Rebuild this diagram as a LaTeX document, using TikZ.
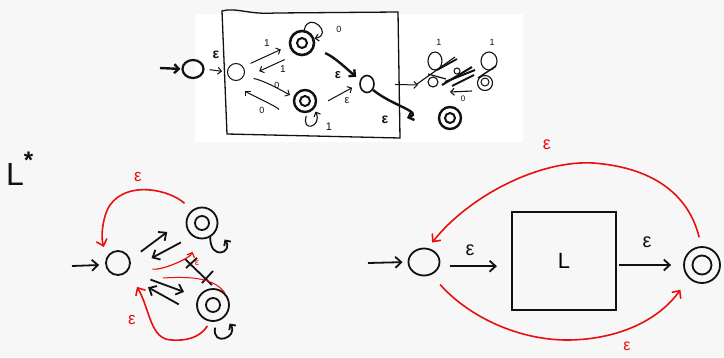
\documentclass[tikz,border=0pt]{standalone}
\usepackage{fontspec}
\setmainfont{Liberation Sans}
\usetikzlibrary{arrows.meta,shapes.geometric}
\definecolor{bg}{HTML}{F7F7F7}
\definecolor{pen}{HTML}{111111}
\definecolor{rd}{HTML}{E8100F}
\tikzset{
  thinln/.style={line width=1pt, draw=pen},
  thickln/.style={line width=2.4pt, draw=pen},
  medln/.style={line width=1.8pt, draw=pen},
  redln/.style={line width=1.6pt, draw=rd},
  hdS/.style={-{Straight Barb[length=3.5pt,width=7pt]}},
  hdT/.style={-{Straight Barb[length=4.5pt,width=9pt]}},
  hdM/.style={-{Straight Barb[length=6pt,width=11pt]}},
  st/.style={circle, draw=pen, inner sep=0pt},
  ell/.style={ellipse, draw=pen, inner sep=0pt},
  lab/.style={inner sep=0pt, text=pen},
  rlab/.style={inner sep=0pt, text=rd},
}
\begin{document}
\begin{tikzpicture}[x=1pt,y=-1pt]
\useasboundingbox (0,0) rectangle (724,357);
\fill[bg] (0,0) rectangle (724,357);
\fill[white] (195,14) rectangle (523,142);

% ---------------- top panel ----------------
\draw[pen, line width=1.3pt] (222,11) .. controls (235,7) and (250,15) .. (275,13) -- (398,12) -- (400,138) -- (227,134) -- cycle;

\node[ell, line width=2.2pt, minimum width=21pt, minimum height=18pt] (t0) at (193,69) {};
\node[st, line width=1pt, minimum size=17pt] (q0) at (236,72) {};
\node[st, line width=2.6pt, minimum size=24pt] (u) at (302,43) {};
\node[st, line width=2pt, minimum size=10pt] (ui) at (302,43) {};
\node[st, line width=2.4pt, minimum size=22pt] (l) at (305,101) {};
\node[st, line width=2pt, minimum size=10pt] (li) at (305,101) {};
\node[ell, line width=1.6pt, minimum width=14pt, minimum height=17pt] (m) at (367,84) {};

\coordinate (t0in) at (160,68);
\draw[thickln, hdT, shorten >=1pt] (t0in) -- (t0.west);
\draw[thinln, hdS, shorten <=5pt, shorten >=5pt] (t0.east) -- (q0.west);
\draw[thinln, hdS, shorten <=8pt, shorten >=9pt] (q0.36) -- (u.192);
\draw[thinln, hdS, shorten <=12pt, shorten >=20pt] (u.241) -- (q0.-56);
\draw[thinln, hdS, shorten <=10pt, shorten >=4pt] (q0.-30) .. controls +(20,4) and +(-15,-8) .. (l.160);
\draw[thinln, hdS, shorten <=16pt, shorten >=14pt] (l.210) .. controls +(-12,2) and +(12,12) .. (q0.-95);
\draw[thickln, hdT, shorten <=12pt, shorten >=5pt] (u.-25) .. controls +(20,8) and +(-12,-10) .. (m.150);
\draw[thinln, hdS, shorten <=15pt, shorten >=8pt] (l.-35) -- (m.179);
\coordinate (mx) at (407,118);
\draw[thickln, hdT] (m.-45) .. controls +(20,16) and +(16,-6) .. (mx);
\coordinate (mo) at (418,85);
\draw[thinln, hdS, shorten <=20pt] (m.east) -- (mo);
\draw[thinln, line width=1.1pt, hdS] (u.80) .. controls +(4,-20) and +(20,-4) .. (u.20);
\draw[thinln, line width=1.1pt, hdS, shorten <=3pt, shorten >=3pt] (l.-80) .. controls +(-6,20) and +(8,18) .. (l.-40);

\node[lab, font=\fontsize{14}{14}\selectfont\bfseries] at (216,55) {ε};
\node[lab, font=\fontsize{10}{10}\selectfont] at (267,43) {1};
\node[lab, font=\fontsize{10}{10}\selectfont] at (283,69) {1};
\node[lab, font=\fontsize{9}{9}\selectfont] at (277,85) {0};
\node[lab, font=\fontsize{9}{9}\selectfont] at (262,110) {0};
\node[lab, font=\fontsize{9}{9}\selectfont] at (339,29) {0};
\node[lab, font=\fontsize{11}{11}\selectfont] at (329,127) {1};
\node[lab, font=\fontsize{13}{13}\selectfont\bfseries] at (338,75) {ε};
\node[lab, font=\fontsize{11}{11}\selectfont] at (347,101) {ε};
\node[lab, font=\fontsize{14}{14}\selectfont\bfseries] at (385,120) {ε};

% scribbled copy on the right
\draw[pen, line width=1.1pt] (435,61) ellipse [x radius=7, y radius=9];
\draw[pen, line width=1.1pt] (489,61) ellipse [x radius=8, y radius=9];
\node[st, line width=1.1pt, minimum size=10pt] (ra) at (433,82) {};
\node[st, line width=1.1pt, minimum size=15pt] (rb) at (485,83) {};
\node[st, line width=1pt, minimum size=8pt] (rbi) at (485,82) {};
\node[st, line width=1pt, minimum size=6pt] (rdot) at (457,71) {};
\node[st, line width=2.4pt, minimum size=22pt] (rc) at (450,118) {};
\node[st, line width=2pt, minimum size=10pt] (rci) at (450,118) {};
\node[lab, font=\fontsize{9}{9}\selectfont] at (439,42) {1};
\node[lab, font=\fontsize{9}{9}\selectfont] at (492,42) {1};
\node[lab, font=\fontsize{8}{8}\selectfont] at (463,99) {0};
\draw[pen, line width=1.1pt] (417,84) -- (455,57);
\draw[pen, line width=1.8pt] (437,70) -- (457,59);
\draw[pen, line width=2pt] (442,85) -- (472,67);
\draw[pen, line width=2pt] (445,82) -- (475,70);
\draw[pen, line width=1.8pt] (452,86) -- (474,75);
\draw[pen, line width=1.5pt] (478,78) -- (496,66);
\draw[pen, line width=1.2pt] (428,74) -- (446,79);
\coordinate (rr1) at (472,91);
\coordinate (rr2) at (450,92);
\draw[thinln, line width=1.1pt, hdS] (rr1) -- (rr2);

% ---------------- L* (left) ----------------
\node[lab, anchor=base west, font=\fontsize{32}{32}\selectfont] (Lstar) at (6,185) {L\raisebox{17pt}{\fontsize{24}{24}\selectfont\bfseries *}};

\node[st, line width=1.8pt, minimum size=24pt] (s) at (118,263) {};
\node[st, line width=1.8pt, minimum size=31pt] (a) at (202,223) {};
\node[st, line width=1.8pt, minimum size=14pt] (ai) at (202,223) {};
\node[st, line width=1.8pt, minimum size=32pt] (b) at (213,305) {};
\node[st, line width=1.8pt, minimum size=14pt] (bi) at (213,305) {};

\coordinate (sin) at (72,266);
\draw[medln, hdM, shorten >=6pt] (sin) -- (s.188);
\draw[medln, hdM, shorten <=13pt, shorten >=24pt] (s.16) -- (a.161);
\draw[medln, hdM, shorten <=13pt, shorten >=26pt] (a.234) -- (s.-35);
\draw[medln, hdM, shorten <=24pt, shorten >=15pt] (s.-40) -- (b.152);
\draw[medln, hdM, shorten <=25pt, shorten >=27pt] (b.223) -- (s.-60);
\draw[medln, -{Straight Barb[length=4pt,width=8pt]}, shorten >=13pt] (a.-60) .. controls +(0,24) and +(16,24) .. (a.-20);
\draw[medln, -{Straight Barb[length=4pt,width=8pt]}, shorten <=6pt, shorten >=8pt] (b.-80) .. controls +(-4,26) and +(14,20) .. (b.-45);
% crossed out transitions
\draw[medln] (185,259) -- (212,285);
\draw[medln] (186,268) -- (197,258);
\draw[medln] (202,283) -- (213,271);

\draw[redln, hdM, shorten <=10pt, shorten >=10pt] (a.128) .. controls (170,190) and (128,180) .. (110,205) .. controls (104,213) and (100,235) .. (s.150);
\draw[redln, line width=1.2pt, -{Straight Barb[length=4pt,width=8pt]}, shorten <=22pt, shorten >=14pt] (s.-8) .. controls +(30,6) and +(-8,20) .. (a.-105);
\coordinate (r1) at (163,278);
\draw[redln, line width=1pt] (r1) .. controls (195,276) and (215,279) .. (b.45);
\draw[redln, hdM, shorten <=5pt, shorten >=18pt] (b.-100) .. controls (200,338) and (185,341) .. (172,340) .. controls (150,340) and (150,309) .. (s.-40);
\node[rlab, font=\fontsize{17}{17}\selectfont] at (138,177) {ε};
\node[rlab, font=\fontsize{17}{17}\selectfont] at (132,320) {ε};
\node[rlab, font=\fontsize{10}{10}\selectfont] at (197,263) {ε};

% ---------------- right construction ----------------
\node[ell, line width=1.8pt, minimum width=31pt, minimum height=27pt] (S) at (424,262) {};
\node[draw=pen, line width=2.2pt, minimum width=104pt, minimum height=98pt, inner sep=0pt, font=\fontsize{22}{22}\selectfont] (B) at (564,261) {L};
\node[st, line width=1.8pt, minimum size=36pt] (F) at (702,265) {};
\node[st, line width=1.8pt, minimum size=19pt] (Fi) at (702,265) {};

\coordinate (Sin) at (368,263);
\draw[medln, hdM, shorten >=5pt] (Sin) -- (S.west);
\draw[medln, hdM, shorten <=10pt, shorten >=14pt] (S.-15) -- (S.-15 -| B.west);
\draw[medln, hdM, shorten <=2pt, shorten >=12pt] (B.east |- F.west) -- (F.west);
\draw[redln, hdM, shorten <=9pt, shorten >=7pt] (F.92) .. controls (690,200) and (660,168) .. (593,163) .. controls (540,160) and (470,195) .. (S.75);
\draw[redln, hdM, shorten <=13pt, shorten >=14pt] (S.-60) .. controls (470,318) and (520,340) .. (567,340) .. controls (610,340) and (655,325) .. (F.225);
\node[lab, font=\fontsize{20}{20}\selectfont] at (470,250) {ε};
\node[lab, font=\fontsize{20}{20}\selectfont] at (647,242) {ε};
\node[rlab, font=\fontsize{18}{18}\selectfont] at (547,145) {ε};
\node[rlab, font=\fontsize{16}{16}\selectfont] at (627,346) {ε};
\end{tikzpicture}
\end{document}
